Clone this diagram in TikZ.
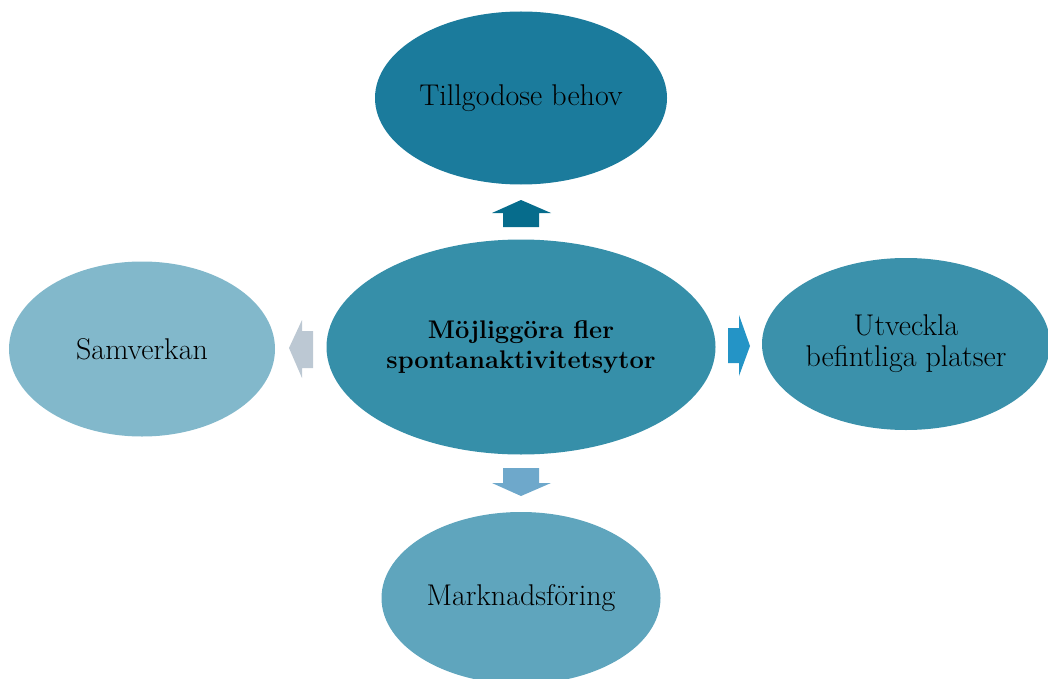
\documentclass[tikz,border=0pt]{standalone}
\usetikzlibrary{shapes.geometric}
\definecolor{cTop}{HTML}{1B7B9C}
\definecolor{cMid}{HTML}{368FA9}
\definecolor{cLeft}{HTML}{82B8CB}
\definecolor{cRight}{HTML}{3B91AB}
\definecolor{cBot}{HTML}{5FA5BD}
\definecolor{aUp}{HTML}{066C8C}
\definecolor{aLeft}{HTML}{BCC8D3}
\definecolor{aRight}{HTML}{2494C6}
\definecolor{aDown}{HTML}{6EA8CB}
\tikzset{
  blob/.style={ellipse, inner sep=0pt, align=center, text=black,
    font=\fontsize{30}{31}\selectfont},
}
\begin{document}
\begin{tikzpicture}[x=1pt,y=-1pt]
\useasboundingbox (0,0) rectangle (1048,679);
\clip (0,0) rectangle (1048,679);
\node[blob, fill=cTop, minimum width=292pt, minimum height=173pt] (top) at (521,98) {Tillgodose behov};
\node[blob, fill=cMid, minimum width=389pt, minimum height=215pt, font=\fontsize{25.5}{30}\selectfont\bfseries] (mid) at (521,347) {Möjliggöra fler\\spontanaktivitetsytor};
\node[blob, fill=cLeft, minimum width=266pt, minimum height=175pt] (left) at (142,349) {Samverkan};
\node[blob, fill=cRight, minimum width=288pt, minimum height=172pt] (right) at (906,344) {Utveckla\\befintliga platser};
\node[blob, fill=cBot, minimum width=279pt, minimum height=172pt] (bot) at (521,598) {Marknadsföring};
% block arrows
\fill[aUp] (503,227) -- (503,213) -- (492,213) -- (521,200) -- (551,213) -- (539,213) -- (539,227) -- cycle;
\fill[aDown] (503,468) -- (503,483) -- (492,483) -- (521,496) -- (551,483) -- (539,483) -- (539,468) -- cycle;
\fill[aLeft] (313,331) -- (302,331) -- (302,320) -- (289,348) -- (302,378) -- (302,368) -- (313,368) -- cycle;
\fill[aRight] (728,328) -- (739,328) -- (739,315) -- (750,346) -- (739,376) -- (739,363) -- (728,363) -- cycle;
\end{tikzpicture}
\end{document}
